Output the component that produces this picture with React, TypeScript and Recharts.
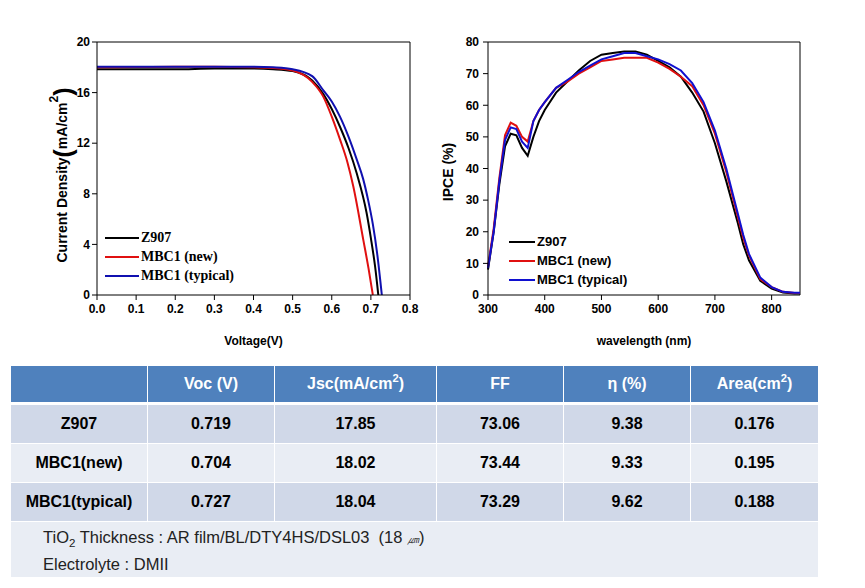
import * as React from "react"
import { LineChart, Line, XAxis, YAxis, Legend, ReferenceLine } from "recharts"

// J-V curves (voltage in V, current density in mA/cm2)
const z907V = [0, 0.1, 0.2, 0.3, 0.4, 0.45, 0.5, 0.55, 0.578, 0.6, 0.621, 0.643, 0.664, 0.689, 0.7, 0.711, 0.719]
const z907J = [17.85, 17.85, 17.85, 17.9, 17.9, 17.85, 17.7, 16.95, 15.9, 14.7, 13.3, 11.6, 9.6, 6.5, 4.5, 2.2, 0]
const newV = [0, 0.1, 0.2, 0.3, 0.4, 0.45, 0.5, 0.55, 0.578, 0.6, 0.621, 0.64, 0.655, 0.681, 0.694, 0.705]
const newJ = [18.0, 18.02, 18.05, 18.05, 18.0, 17.95, 17.75, 16.85, 15.7, 14.1, 12.3, 10.5, 8.6, 4.3, 2.1, 0]
const typV = [0, 0.1, 0.2, 0.3, 0.4, 0.45, 0.5, 0.55, 0.578, 0.6, 0.621, 0.643, 0.664, 0.68, 0.693, 0.705, 0.716, 0.728]
const typJ = [18.04, 18.05, 18.05, 18.05, 18.05, 18.0, 17.85, 17.3, 16.2, 15.3, 14.1, 12.5, 10.7, 9.2, 7.5, 5.6, 3.3, 0]

// IPCE spectra
const wavelengths = [300, 310, 320, 330, 340, 350, 360, 370, 380, 390, 400, 420, 440, 460, 480, 500, 520, 540, 560, 580, 600, 620, 640, 660, 680, 700, 720, 740, 750, 760, 780, 800, 820, 840, 850]
const ipceZ907 = [8, 20, 35, 47, 51, 50.5, 46.5, 44, 50, 55, 58.5, 64, 67.5, 71, 74, 76, 76.5, 77, 77, 76, 74, 72, 69, 64, 58, 48, 36, 23, 16, 11, 4.5, 2, 0.8, 0.5, 0.5]
const ipceNew = [9, 21, 37, 50.5, 54.5, 53.5, 50, 48.5, 55, 58.5, 61, 65.5, 67.5, 70, 72, 74, 74.5, 75, 75, 75, 73.5, 71.5, 69, 66, 60, 51, 39, 25, 18, 12.5, 5, 2.5, 1, 0.6, 0.6]
const ipceTyp = [8.5, 20, 36, 49, 53, 52.5, 48.5, 46.5, 55, 58.5, 61, 65.5, 68, 70.5, 72.5, 74.5, 75.5, 76.5, 76.5, 75.5, 74.5, 73, 71, 67, 61, 52, 40, 26, 19, 13, 5.5, 2.5, 1, 0.7, 0.7]

const seriesNames = ["Z907", "MBC1 (new)", "MBC1 (typical)"]
const voltTicks = [0, 0.1, 0.2, 0.3, 0.4, 0.5, 0.6, 0.7, 0.8]
const currentTicks = [0, 4, 8, 12, 16, 20]
const waveTicks = [300, 400, 500, 600, 700, 800]
const ipceTicks = [0, 10, 20, 30, 40, 50, 60, 70, 80]

// table
const tableHeader = ["", "Voc (V)", "Jsc(mA/cm2)", "FF", "η (%)", "Area(cm2)"]
const tableRows = [
  ["Z907", "0.719", "17.85", "73.06", "9.38", "0.176"],
  ["MBC1(new)", "0.704", "18.02", "73.44", "9.33", "0.195"],
  ["MBC1(typical)", "0.727", "18.04", "73.29", "9.62", "0.188"],
]

const zip = (xs: number[], ys: number[], xk: string, yk: string) =>
  xs.map((x, i) => ({ [xk]: x, [yk]: ys[i] }))

const SANS = "'Liberation Sans', Arial, sans-serif"
const SERIF = "'Liberation Serif', 'Times New Roman', serif"
const tickStyle = { fill: "#000", fontSize: 12, fontWeight: "bold", fontFamily: SANS }

function LegendBox({ colors, font, size, lineW }: any) {
  return (
    <div>
      {seriesNames.map((name, i) => (
        <div key={name} style={{ display: "flex", alignItems: "center", height: 19 }}>
          <svg width={lineW} height={4} style={{ marginRight: 2 }}>
            <line x1={0} y1={2} x2={lineW} y2={2} stroke={colors[i]} strokeWidth={2} />
          </svg>
          <span style={{ fontFamily: font, fontWeight: "bold", fontSize: size, color: "#000", whiteSpace: "nowrap" }}>
            {name}
          </span>
        </div>
      ))}
    </div>
  )
}

function JVChart() {
  const cols = ["#000000", "#e01010", "#1010b0"]
  const sets = [zip(z907V, z907J, "v", "j"), zip(newV, newJ, "v", "j"), zip(typV, typJ, "v", "j")]
  return (
    <LineChart width={430} height={350} margin={{ top: 42, right: 20, left: 0, bottom: 0 }}>
      <XAxis
        type="number"
        dataKey="v"
        domain={[0, 0.8]}
        ticks={voltTicks}
        tickFormatter={(v: number) => v.toFixed(1)}
        allowDuplicatedCategory={false}
        height={55}
        tick={tickStyle}
        tickSize={5}
        tickMargin={4}
        stroke="#000"
        label={{ value: "Voltage(V)", position: "insideBottom", offset: 5, style: { ...tickStyle } }}
      />
      <YAxis
        type="number"
        domain={[0, 20]}
        ticks={currentTicks}
        width={97}
        tick={tickStyle}
        tickSize={5}
        tickMargin={2}
        stroke="#000"
        label={{
          content: () => (
            <text
              x={62}
              y={175}
              transform="rotate(-90 62 175)"
              textAnchor="middle"
              dominantBaseline="central"
              fontFamily={SANS}
              fontWeight="bold"
              fontSize={14}
              fill="#000"
            >
              Current Density
              <tspan fontSize={25} dy={1}>(</tspan>
              <tspan fontSize={14} dy={-1}>mA/cm</tspan>
              <tspan fontSize={12} dy={-8}>2</tspan>
              <tspan fontSize={25} dy={9}>)</tspan>
            </text>
          ),
        }}
      />
      <ReferenceLine y={20} stroke="#000" />
      <ReferenceLine x={0.8} stroke="#000" />
      {sets.map((d, i) => (
        <Line
          key={seriesNames[i]}
          data={d}
          dataKey="j"
          name={seriesNames[i]}
          type="monotone"
          stroke={cols[i]}
          strokeWidth={2}
          dot={false}
          isAnimationActive={false}
        />
      ))}
      <Legend
        layout="vertical"
        align="center"
        verticalAlign="middle"
        wrapperStyle={{ left: 105, top: 228, width: 160, height: 60 }}
        content={() => <LegendBox colors={cols} font={SERIF} size={14} lineW={34} />}
      />
    </LineChart>
  )
}

function IPCEChart() {
  const cols = ["#000000", "#e01010", "#1010d0"]
  const sets = [zip(wavelengths, ipceZ907, "w", "y"), zip(wavelengths, ipceNew, "w", "y"), zip(wavelengths, ipceTyp, "w", "y")]
  return (
    <LineChart width={430} height={350} margin={{ top: 42, right: 60, left: 0, bottom: 0 }}>
      <XAxis
        type="number"
        dataKey="w"
        domain={[300, 850]}
        ticks={waveTicks}
        allowDuplicatedCategory={false}
        height={55}
        tick={tickStyle}
        tickSize={5}
        tickMargin={4}
        stroke="#000"
        label={{ value: "wavelength (nm)", position: "insideBottom", offset: 5, style: { ...tickStyle } }}
      />
      <YAxis
        type="number"
        domain={[0, 80]}
        ticks={ipceTicks}
        width={58}
        tick={tickStyle}
        tickSize={5}
        tickMargin={4}
        stroke="#000"
        label={{
          content: () => (
            <text
              x={18}
              y={172}
              transform="rotate(-90 18 172)"
              textAnchor="middle"
              dominantBaseline="central"
              fontFamily={SANS}
              fontWeight="bold"
              fontSize={14}
              fill="#000"
            >
              IPCE (%)
            </text>
          ),
        }}
      />
      <ReferenceLine y={80} stroke="#000" />
      <ReferenceLine x={850} stroke="#000" />
      {sets.map((d, i) => (
        <Line
          key={seriesNames[i]}
          data={d}
          dataKey="y"
          name={seriesNames[i]}
          type="linear"
          stroke={cols[i]}
          strokeWidth={2}
          dot={false}
          isAnimationActive={false}
        />
      ))}
      <Legend
        layout="vertical"
        align="center"
        verticalAlign="middle"
        wrapperStyle={{ left: 79, top: 232, width: 160, height: 60 }}
        content={() => <LegendBox colors={cols} font={SANS} size={13} lineW={26} />}
      />
    </LineChart>
  )
}

function withSup(s: string) {
  const m = s.match(/^(.*cm)2(\))$/)
  if (!m) return s
  return (
    <>
      {m[1]}
      <span style={{ fontSize: "0.7em", position: "relative", top: -6 }}>2</span>
      {m[2]}
    </>
  )
}

function ResultTable() {
  const widths = [137, 127, 162, 127, 127, 127]
  const cell = (w: number, bg: string, h: number, color: string, content: React.ReactNode, key: number) => (
    <div
      key={key}
      style={{
        width: w,
        height: h,
        background: bg,
        color,
        display: "flex",
        alignItems: "center",
        justifyContent: "center",
        borderRight: key < widths.length - 1 ? "1px solid #fff" : "none",
        boxSizing: "border-box",
        fontFamily: SANS,
        fontWeight: "bold",
        fontSize: 16,
      }}
    >
      {content}
    </div>
  )
  return (
    <div style={{ position: "absolute", left: 11, top: 366, width: 807 }}>
      <div style={{ display: "flex", borderBottom: "3px solid #fff" }}>
        {tableHeader.map((h, i) => cell(widths[i], "#4f81bd", 36, "#fff", withSup(h), i))}
      </div>
      {tableRows.map((r, ri) => (
        <div key={r[0]} style={{ display: "flex", borderBottom: "1px solid #fff" }}>
          {r.map((c, i) => cell(widths[i], ri % 2 === 0 ? "#d0d8e8" : "#e9edf4", 38, "#000", c, i))}
        </div>
      ))}
      <div
        style={{
          background: "#e9edf4",
          height: 55,
          boxSizing: "border-box",
          padding: "3px 0 0 32px",
          fontFamily: SANS,
          fontSize: 16.5,
          color: "#222",
          lineHeight: "25px",
        }}
      >
        <div>
          TiO<sub style={{ fontSize: "0.7em", lineHeight: 0 }}>2</sub> Thickness : AR film/BL/DTY4HS/DSL03&nbsp;&nbsp;(18{" "}
          <span style={{ fontSize: 12, fontStyle: "italic" }}>㎛</span>)
        </div>
        <div>Electrolyte : DMII</div>
      </div>
    </div>
  )
}

export default function App() {
  return (
    <div style={{ position: "absolute", left: 0, top: 0, width: 865, height: 588, background: "#fff", overflow: "hidden" }}>
      <div style={{ position: "absolute", left: 0, top: 0 }}>
        <JVChart />
      </div>
      <div style={{ position: "absolute", left: 430, top: 0 }}>
        <IPCEChart />
      </div>
      <ResultTable />
    </div>
  )
}
